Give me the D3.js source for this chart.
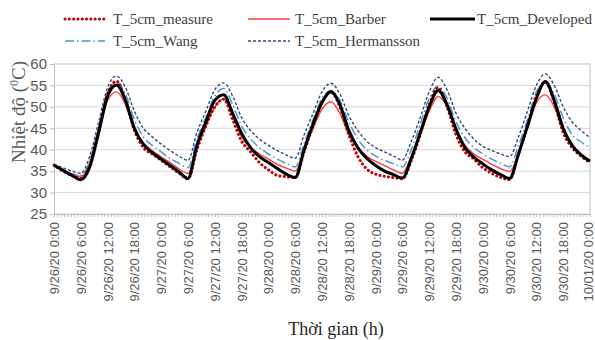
<!DOCTYPE html>
<html>
<head>
<meta charset="utf-8">
<script src="https://cdn.jsdelivr.net/npm/d3@7"></script>
<style>
  html, body { margin: 0; padding: 0; background: #fff; }
  svg { display: block; }
</style>
</head>
<body>
<svg id="chart" width="595" height="340"></svg>
<script>
// ---- DATA ----
const hours = d3.range(0, 121, 2); // sample times (h from 9/26/20 0:00)
const tickLabels = [
  "9/26/20 0:00","9/26/20 6:00","9/26/20 12:00","9/26/20 18:00",
  "9/27/20 0:00","9/27/20 6:00","9/27/20 12:00","9/27/20 18:00",
  "9/28/20 0:00","9/28/20 6:00","9/28/20 12:00","9/28/20 18:00",
  "9/29/20 0:00","9/29/20 6:00","9/29/20 12:00","9/29/20 18:00",
  "9/30/20 0:00","9/30/20 6:00","9/30/20 12:00","9/30/20 18:00",
  "10/01/20 0:00"
];
const yTicks = [25, 30, 35, 40, 45, 50, 55, 60];

const measure = [
  36.4, 35.0, 34.0, 33.3, 36.5, 44.5, 53.0, 56.0, 51.5, 44.5, 40.5, 39.0,
  37.5, 36.0, 34.5, 33.2, 40.0, 45.5, 50.0, 51.8, 47.0, 42.0, 39.5, 37.0,
  35.3, 34.0, 33.7, 33.5, 39.5, 45.5, 51.0, 53.5, 50.0, 43.5, 38.5, 35.5,
  34.3, 33.8, 33.5, 33.2, 37.5, 43.5, 50.5, 54.5, 50.0, 43.5, 39.5, 37.8,
  35.8, 34.5, 33.5, 33.0, 39.0, 45.5, 52.5, 55.8, 51.0, 44.0, 40.5, 38.5, 37.0
];
const barber = [
  36.4, 35.2, 34.2, 33.8, 36.5, 44.0, 51.5, 53.5, 50.5, 44.5, 41.5, 39.8,
  38.3, 37.0, 35.5, 34.5, 40.5, 45.5, 50.0, 51.8, 48.0, 43.0, 40.5, 39.0,
  37.8, 36.6, 35.7, 35.0, 40.0, 45.0, 49.5, 51.2, 48.5, 43.5, 40.5, 38.5,
  37.3, 36.3, 35.3, 34.5, 38.5, 43.5, 49.0, 52.4, 50.0, 44.5, 41.0, 39.0,
  37.8, 36.6, 35.6, 34.9, 39.0, 45.0, 51.0, 52.8, 50.0, 44.5, 41.0, 39.0, 37.5
];
const developed = [
  36.4, 35.2, 34.0, 33.0, 36.0, 44.0, 52.5, 55.1, 51.5, 45.0, 41.3, 39.3,
  37.8, 36.3, 34.8, 33.3, 41.0, 46.5, 51.5, 52.8, 48.5, 43.8, 40.5, 38.4,
  37.0, 35.6, 34.3, 33.5, 40.0, 46.0, 51.0, 53.5, 50.5, 44.5, 40.5, 38.0,
  36.3, 35.0, 34.2, 33.4, 38.0, 44.0, 50.0, 53.8, 50.5, 44.8, 40.5, 38.3,
  36.7, 35.3, 34.2, 33.3, 39.0, 45.5, 52.0, 55.9, 51.5, 45.0, 41.0, 38.8, 37.3
];
const wang = [
  36.5, 35.3, 34.4, 34.0, 37.5, 45.5, 53.5, 55.8, 53.0, 47.0, 43.0, 41.0,
  39.5, 38.0, 36.8, 35.8, 42.5, 47.5, 52.5, 54.3, 50.5, 45.5, 42.5, 40.5,
  39.0, 37.8, 36.8, 36.0, 41.5, 47.0, 52.0, 53.8, 51.5, 46.5, 42.5, 40.0,
  38.5, 37.5, 36.7, 36.0, 40.0, 46.0, 52.0, 54.8, 52.0, 46.5, 42.8, 40.5,
  39.0, 37.8, 36.8, 36.0, 41.0, 47.0, 53.5, 55.6, 53.0, 47.5, 43.5, 41.8, 40.5
];
const hermansson = [
  36.6, 35.8, 35.0, 34.5, 38.5, 46.5, 54.5, 57.2, 54.5, 49.0, 45.0, 43.0,
  41.3, 39.8, 38.5, 37.5, 44.0, 49.0, 54.0, 55.6, 52.5, 47.5, 44.5, 42.5,
  41.0, 39.8, 38.8, 38.0, 43.5, 48.5, 53.5, 55.5, 53.0, 48.0, 44.5, 42.0,
  40.5, 39.5, 38.5, 37.6, 42.0, 47.5, 53.5, 56.9, 54.0, 48.5, 45.0, 42.5,
  40.8, 39.8, 39.0, 38.4, 43.0, 49.0, 55.0, 57.7, 55.0, 50.0, 46.5, 44.5, 42.8
];

const seriesNames = ["T_5cm_measure", "T_5cm_Barber", "T_5cm_Developed", "T_5cm_Wang", "T_5cm_Hermansson"];

// ---- LAYOUT ----
const svg = d3.select("#chart");
const mLeft = 54, mRight = 590, mTop = 64, mBottom = 214;
const x = d3.scaleLinear().domain([0, 120]).range([mLeft, mRight]);
const y = d3.scaleLinear().domain([25, 60]).range([mBottom, mTop]);

const styles = {
  "T_5cm_measure":    { color: "#c00000", width: 3,   dash: "0.1 4.2", cap: "round" },
  "T_5cm_Barber":     { color: "#ff3b3b", width: 1.4, dash: null,      cap: "butt" },
  "T_5cm_Developed":  { color: "#000000", width: 3,   dash: null,      cap: "butt" },
  "T_5cm_Wang":       { color: "#4f94d4", width: 1.5, dash: "9 3 1.5 3", cap: "butt" },
  "T_5cm_Hermansson": { color: "#2e4a80", width: 1.4, dash: "3 2",     cap: "butt" }
};
const dataMap = {
  "T_5cm_measure": measure, "T_5cm_Barber": barber, "T_5cm_Developed": developed,
  "T_5cm_Wang": wang, "T_5cm_Hermansson": hermansson
};

// gridlines
svg.append("g").selectAll("line").data(yTicks.filter(v => v < 60)).join("line")
  .attr("x1", mLeft).attr("x2", mRight)
  .attr("y1", d => y(d)).attr("y2", d => y(d))
  .attr("stroke", "#d9d9d9").attr("stroke-width", 1);

// plot border top/right
svg.append("path")
  .attr("d", `M${mLeft},${y(60)}H${mRight}V${mBottom}`)
  .attr("fill", "none").attr("stroke", "#bfbfbf").attr("stroke-width", 1);

// y axis
const yAxis = d3.axisLeft(y).tickValues(yTicks).tickSize(4).tickPadding(3);
const gy = svg.append("g").attr("transform", `translate(${mLeft},0)`).call(yAxis);
gy.select(".domain").attr("stroke", "#bfbfbf");
gy.selectAll(".tick line").attr("stroke", "#bfbfbf");
gy.selectAll(".tick text")
  .attr("font-family", "Liberation Sans, Arial, sans-serif")
  .attr("font-size", 15).attr("fill", "#595959");

// x axis: minor ticks
const minor = d3.range(0, 120.01, 0.75);
const xAxisMinor = d3.axisBottom(x).tickValues(minor).tickSize(3).tickFormat("");
const gxm = svg.append("g").attr("transform", `translate(0,${mBottom})`).call(xAxisMinor);
gxm.select(".domain").attr("stroke", "#bfbfbf");
gxm.selectAll(".tick line").attr("stroke", "#bfbfbf");

// x axis labels
const labelHours = tickLabels.map((_, i) => i * 6);
const xAxis = d3.axisBottom(x).tickValues(labelHours).tickSize(0).tickFormat((d, i) => tickLabels[i]);
const gx = svg.append("g").attr("transform", `translate(0,${mBottom})`).call(xAxis);
gx.select(".domain").remove();
gx.selectAll(".tick text")
  .attr("font-family", "Liberation Sans, Arial, sans-serif")
  .attr("font-size", 13).attr("fill", "#595959")
  .attr("text-anchor", "end")
  .attr("transform", (d, i) => i === tickLabels.length - 1 ? "translate(-2,0) rotate(-90)" : "rotate(-90)")
  .attr("x", -8).attr("y", 0).attr("dy", "0.35em");

// lines
const line = d3.line().x((d, i) => x(hours[i])).y(d => y(d)).curve(d3.curveMonotoneX);
const drawOrder = ["T_5cm_Hermansson", "T_5cm_Wang", "T_5cm_Barber", "T_5cm_measure", "T_5cm_Developed"];
svg.append("g").selectAll("path").data(drawOrder).join("path")
  .attr("d", k => line(dataMap[k]))
  .attr("fill", "none")
  .attr("stroke", k => styles[k].color)
  .attr("stroke-width", k => styles[k].width)
  .attr("stroke-dasharray", k => styles[k].dash)
  .attr("stroke-linecap", k => styles[k].cap)
  .attr("stroke-linejoin", "round");

// legend
const legendPos = [
  { name: "T_5cm_measure",    x1: 65,  x2: 107, tx: 113, y: 19 },
  { name: "T_5cm_Barber",     x1: 248, x2: 290, tx: 295, y: 19 },
  { name: "T_5cm_Developed",  x1: 430, x2: 475, tx: 477, y: 19 },
  { name: "T_5cm_Wang",       x1: 65,  x2: 105, tx: 113, y: 41 },
  { name: "T_5cm_Hermansson", x1: 248, x2: 290, tx: 295, y: 41 }
];
const lg = svg.append("g").selectAll("g").data(legendPos).join("g");
lg.append("line")
  .attr("x1", d => d.x1).attr("x2", d => d.x2)
  .attr("y1", d => d.y).attr("y2", d => d.y)
  .attr("stroke", d => styles[d.name].color)
  .attr("stroke-width", d => styles[d.name].width)
  .attr("stroke-dasharray", d => styles[d.name].dash)
  .attr("stroke-linecap", d => styles[d.name].cap);
lg.append("text")
  .attr("x", d => d.tx).attr("y", d => d.y + 5)
  .attr("font-family", "Liberation Serif, Times New Roman, serif")
  .attr("font-size", 15).attr("fill", "#404040")
  .text(d => d.name);

// axis titles
const yt = svg.append("text")
  .attr("transform", `translate(25,112) rotate(-90)`)
  .attr("text-anchor", "middle")
  .attr("font-family", "Liberation Serif, Times New Roman, serif")
  .attr("font-size", 19).attr("fill", "#595959");
yt.append("tspan").text("Nhiệt độ (");
yt.append("tspan").attr("font-size", 12).attr("dy", -7).text("0");
yt.append("tspan").attr("dy", 7).text("C)");

svg.append("text")
  .attr("x", 336).attr("y", 335)
  .attr("text-anchor", "middle")
  .attr("font-family", "Liberation Serif, Times New Roman, serif")
  .attr("font-size", 18).attr("fill", "#262626")
  .text("Thời gian (h)");
</script>
</body>
</html>
